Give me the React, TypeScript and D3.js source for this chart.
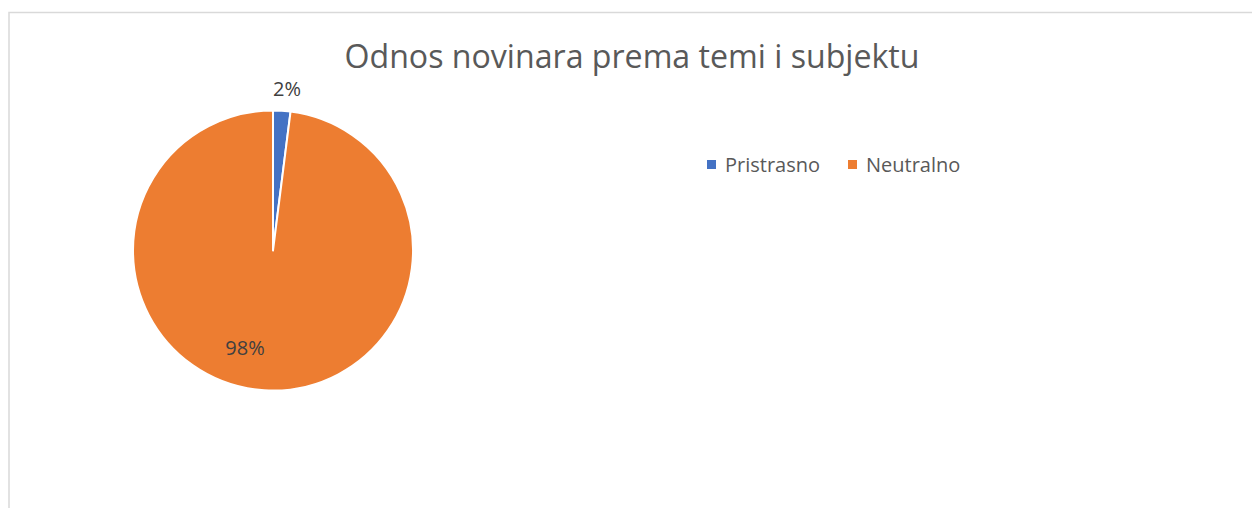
import React from "react";
import * as d3 from "d3";

const categories = ["Pristrasno", "Neutralno"];
const values = [2, 98];
const labels = ["2%", "98%"];
const colors = ["#4472C4", "#ED7D31"];
const title = "Odnos novinara prema temi i subjektu";

export default function App() {
  const W = 1252, H = 508;
  const cx = 273, cy = 250.5, r = 140;
  const pie = d3.pie<number>().sort(null).value((d) => d)(values);
  const arc = d3.arc<d3.PieArcDatum<number>>().innerRadius(0).outerRadius(r);
  const font = "'Open Sans', 'Liberation Sans', sans-serif";
  const labelPos = [
    [287, 96],
    [245, 355],
  ];
  const legendX = [707, 848];
  return (
    <svg width={W} height={H} style={{ position: "absolute", left: 0, top: 0 }}>
      <rect x={0} y={0} width={W} height={H} fill="#fff" />
      <path d={`M9,${H} V12.5 H${W}`} fill="none" stroke="#d9d9d9" strokeWidth={1.5} />
      <text x={632} y={68} textAnchor="middle" fontFamily={font} fontSize={32} fill="#595959"
        textLength={575} lengthAdjust="spacingAndGlyphs">
        {title}
      </text>
      <g transform={`translate(${cx},${cy})`}>
        {pie.map((p, i) => (
          <path key={i} d={arc(p) || ""} fill={colors[i]} stroke="#fff" strokeWidth={2} strokeLinejoin="round" />
        ))}
      </g>
      {labels.map((l, i) => (
        <text key={i} x={labelPos[i][0]} y={labelPos[i][1]} textAnchor="middle" fontFamily={font} fontSize={20} fill="#404040">
          {l}
        </text>
      ))}
      {categories.map((c, i) => (
        <g key={c} transform={`translate(${legendX[i]},160)`}>
          <rect x={0} y={0} width={9} height={9} fill={colors[i]} />
          <text x={18} y={12} fontFamily={font} fontSize={20} fill="#595959">
            {c}
          </text>
        </g>
      ))}
    </svg>
  );
}
